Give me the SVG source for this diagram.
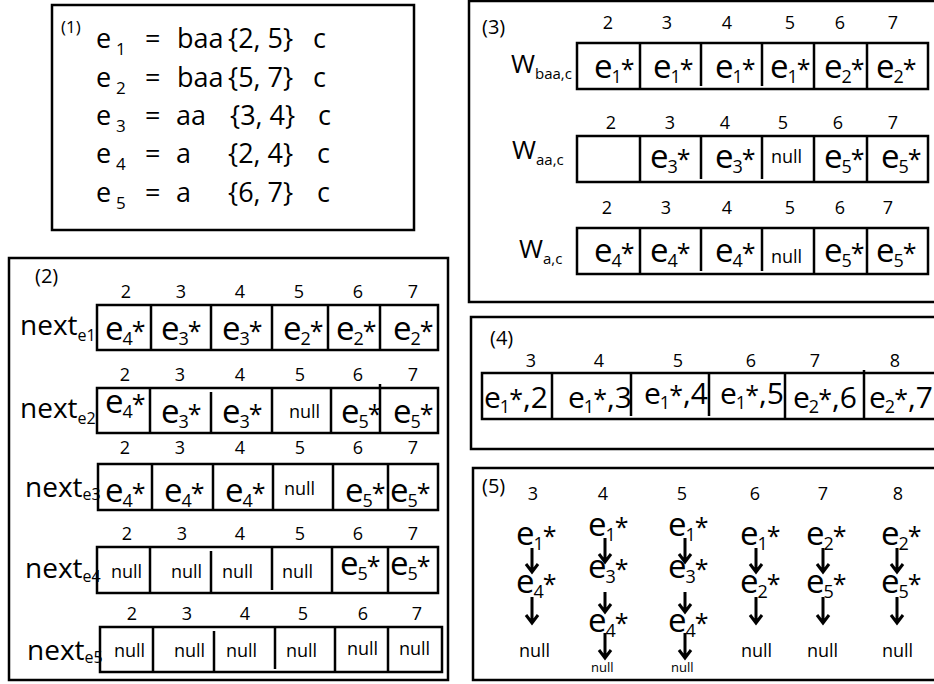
<svg xmlns="http://www.w3.org/2000/svg" width="934" height="684" viewBox="0 0 934 684">
<style>
text{font-family:"Open Sans","Liberation Sans",sans-serif;fill:#000}
.p{fill:none;stroke:#000;stroke-width:2.5}
.c{fill:none;stroke:#000;stroke-width:2.5}
.h{font-size:18px;text-anchor:middle}
.e{font-size:33px}
.e4{font-size:30px}
.s{font-size:18px}
.a{font-size:25px}
.n{font-size:18px}
.nn{font-size:13px}
.lb{font-size:28px}
.lw{font-size:26px}
.ls{font-size:16px}
.lws{font-size:15px}
.t1{font-size:27px}
.s1{font-size:17px}
.pl{font-size:20px}
.arr{fill:none;stroke:#000;stroke-width:3}
</style>

<g id="panel1">
<rect class="p" x="52" y="5" width="362" height="225"/>
<text class="pl" x="61" y="33" style="font-size:17px">(1)</text>
<text class="t1" y="48"><tspan x="96">e</tspan><tspan class="s1" x="116" dy="7">1</tspan></text>
<text class="t1" x="145" y="48">=</text><text class="t1" x="177" y="48">baa</text><text class="t1" x="228" y="48">{2, 5}</text><text class="t1" x="313" y="48">c</text>
<text class="t1" y="87"><tspan x="96">e</tspan><tspan class="s1" x="116" dy="7">2</tspan></text>
<text class="t1" x="145" y="87">=</text><text class="t1" x="177" y="87">baa</text><text class="t1" x="228" y="87">{5, 7}</text><text class="t1" x="313" y="87">c</text>
<text class="t1" y="125"><tspan x="96">e</tspan><tspan class="s1" x="116" dy="7">3</tspan></text>
<text class="t1" x="145" y="125">=</text><text class="t1" x="176" y="125">aa</text><text class="t1" x="230" y="125">{3, 4}</text><text class="t1" x="318" y="125">c</text>
<text class="t1" y="163"><tspan x="96">e</tspan><tspan class="s1" x="116" dy="7">4</tspan></text>
<text class="t1" x="145" y="163">=</text><text class="t1" x="176" y="163">a</text><text class="t1" x="228" y="163">{2, 4}</text><text class="t1" x="317" y="163">c</text>
<text class="t1" y="202"><tspan x="96">e</tspan><tspan class="s1" x="116" dy="7">5</tspan></text>
<text class="t1" x="145" y="202">=</text><text class="t1" x="176" y="202">a</text><text class="t1" x="228" y="202">{6, 7}</text><text class="t1" x="317" y="202">c</text>
</g>

<g id="panel2">
<rect class="p" x="9" y="258" width="439" height="422"/>
<text class="pl" x="35" y="283">(2)</text>

<g id="next_e1">
<text class="h" y="298"><tspan x="126">2</tspan><tspan x="181">3</tspan><tspan x="240">4</tspan><tspan x="299">5</tspan><tspan x="358">6</tspan><tspan x="413">7</tspan></text>
<rect class="c" x="97" y="305" width="341" height="45"/>
<path class="c" d="M151 305V350M211 305V350M272 305V350M328 305V350M380 305V350"/>
<text class="lb" x="20" y="335">next<tspan class="ls" dy="6">e1</tspan></text>
<text class="e" x="105" y="340">e<tspan class="s" dx="-1" dy="5">4</tspan><tspan class="a" dx="-1" dy="-5">*</tspan></text>
<text class="e" x="161" y="340">e<tspan class="s" dx="-1" dy="5">3</tspan><tspan class="a" dx="-1" dy="-5">*</tspan></text>
<text class="e" x="222" y="340">e<tspan class="s" dx="-1" dy="5">3</tspan><tspan class="a" dx="-1" dy="-5">*</tspan></text>
<text class="e" x="283" y="340">e<tspan class="s" dx="-1" dy="5">2</tspan><tspan class="a" dx="-1" dy="-5">*</tspan></text>
<text class="e" x="336" y="340">e<tspan class="s" dx="-1" dy="5">2</tspan><tspan class="a" dx="-1" dy="-5">*</tspan></text>
<text class="e" x="393" y="340">e<tspan class="s" dx="-1" dy="5">2</tspan><tspan class="a" dx="-1" dy="-5">*</tspan></text>
</g>

<g id="next_e2">
<text class="h" y="381"><tspan x="125">2</tspan><tspan x="180">3</tspan><tspan x="240">4</tspan><tspan x="300">5</tspan><tspan x="358">6</tspan><tspan x="413">7</tspan></text>
<rect class="c" x="97" y="388" width="341" height="45"/>
<path class="c" d="M150 388V433M211 392V433M272 388V433M331 388V433M380 384V433"/>
<text class="lb" x="20" y="418">next<tspan class="ls" dy="6">e2</tspan></text>
<text class="e" x="105" y="413">e<tspan class="s" dx="-1" dy="5">4</tspan><tspan class="a" dx="-1" dy="-5">*</tspan></text>
<text class="e" x="161" y="423">e<tspan class="s" dx="-1" dy="5">3</tspan><tspan class="a" dx="-1" dy="-5">*</tspan></text>
<text class="e" x="222" y="423">e<tspan class="s" dx="-1" dy="5">3</tspan><tspan class="a" dx="-1" dy="-5">*</tspan></text>
<text class="n" x="289" y="418">null</text>
<text class="e" x="341" y="423">e<tspan class="s" dx="-1" dy="5">5</tspan><tspan class="a" dx="-1" dy="-5">*</tspan></text>
<text class="e" x="393" y="423">e<tspan class="s" dx="-1" dy="5">5</tspan><tspan class="a" dx="-1" dy="-5">*</tspan></text>
</g>

<g id="next_e3">
<text class="h" y="454"><tspan x="125">2</tspan><tspan x="180">3</tspan><tspan x="240">4</tspan><tspan x="300">5</tspan><tspan x="358">6</tspan><tspan x="413">7</tspan></text>
<rect class="c" x="98" y="464" width="340" height="46"/>
<path class="c" d="M152 464V510M213 464V510M273 464V510M333 464V510M388 464V510"/>
<text class="lb" x="25" y="497">next<tspan class="ls" dy="3">e3</tspan></text>
<text class="e" x="105" y="502">e<tspan class="s" dx="-1" dy="5">4</tspan><tspan class="a" dx="-1" dy="-5">*</tspan></text>
<text class="e" x="164" y="502">e<tspan class="s" dx="-1" dy="5">4</tspan><tspan class="a" dx="-1" dy="-5">*</tspan></text>
<text class="e" x="225" y="502">e<tspan class="s" dx="-1" dy="5">4</tspan><tspan class="a" dx="-1" dy="-5">*</tspan></text>
<text class="n" x="284" y="495">null</text>
<text class="e" x="345" y="502">e<tspan class="s" dx="-1" dy="5">5</tspan><tspan class="a" dx="-1" dy="-5">*</tspan></text>
<text class="e" x="390" y="502">e<tspan class="s" dx="-1" dy="5">5</tspan><tspan class="a" dx="-1" dy="-5">*</tspan></text>
</g>

<g id="next_e4">
<text class="h" y="540"><tspan x="127">2</tspan><tspan x="182">3</tspan><tspan x="240">4</tspan><tspan x="300">5</tspan><tspan x="358">6</tspan><tspan x="413">7</tspan></text>
<rect class="c" x="97" y="547" width="341" height="46"/>
<path class="c" d="M150 547V593M211 551V593M272 547V590M332 547V593M388 547V593"/>
<text class="lb" x="25" y="578">next<tspan class="ls" dy="4">e4</tspan></text>
<text class="n" x="111" y="578">null</text>
<text class="n" x="171" y="578">null</text>
<text class="n" x="222" y="578">null</text>
<text class="n" x="282" y="578">null</text>
<text class="e" x="340" y="575">e<tspan class="s" dx="-1" dy="5">5</tspan><tspan class="a" dx="-1" dy="-5">*</tspan></text>
<text class="e" x="390" y="575">e<tspan class="s" dx="-1" dy="5">5</tspan><tspan class="a" dx="-1" dy="-5">*</tspan></text>
</g>

<g id="next_e5">
<text class="h" y="620"><tspan x="132">2</tspan><tspan x="187">3</tspan><tspan x="245">4</tspan><tspan x="303">5</tspan><tspan x="363">6</tspan><tspan x="417">7</tspan></text>
<rect class="c" x="100" y="627" width="342" height="45"/>
<path class="c" d="M153 627V672M214 631V672M275 627V669M335 627V672M388 627V672"/>
<text class="lb" x="27" y="660">next<tspan class="ls" dy="3">e5</tspan></text>
<text class="n" x="114" y="657">null</text>
<text class="n" x="174" y="657">null</text>
<text class="n" x="226" y="657">null</text>
<text class="n" x="286" y="657">null</text>
<text class="n" x="347" y="655">null</text>
<text class="n" x="399" y="655">null</text>
</g>
</g>

<g id="panel3">
<rect class="p" x="469" y="1" width="480" height="301"/>
<text class="pl" x="482" y="34">(3)</text>

<g id="W_baa_c">
<text class="h" y="29"><tspan x="608">2</tspan><tspan x="667">3</tspan><tspan x="727">4</tspan><tspan x="790">5</tspan><tspan x="840">6</tspan><tspan x="893">7</tspan></text>
<rect class="c" x="577" y="43" width="351" height="46"/>
<path class="c" d="M640 43V89M701 43V86M762 43V86M814 43V89M867 43V89"/>
<text class="lw" x="511" y="73">W<tspan class="lws" dy="6">baa,c</tspan></text>
<text class="e" x="594" y="78">e<tspan class="s" dx="-1" dy="5">1</tspan><tspan class="a" dx="-1" dy="-5">*</tspan></text>
<text class="e" x="653" y="78">e<tspan class="s" dx="-1" dy="5">1</tspan><tspan class="a" dx="-1" dy="-5">*</tspan></text>
<text class="e" x="715" y="78">e<tspan class="s" dx="-1" dy="5">1</tspan><tspan class="a" dx="-1" dy="-5">*</tspan></text>
<text class="e" x="770" y="78">e<tspan class="s" dx="-1" dy="5">1</tspan><tspan class="a" dx="-1" dy="-5">*</tspan></text>
<text class="e" x="824" y="78">e<tspan class="s" dx="-1" dy="5">2</tspan><tspan class="a" dx="-1" dy="-5">*</tspan></text>
<text class="e" x="876" y="78">e<tspan class="s" dx="-1" dy="5">2</tspan><tspan class="a" dx="-1" dy="-5">*</tspan></text>
</g>

<g id="W_aa_c">
<text class="h" y="129"><tspan x="611">2</tspan><tspan x="670">3</tspan><tspan x="725">4</tspan><tspan x="783">5</tspan><tspan x="838">6</tspan><tspan x="893">7</tspan></text>
<rect class="c" x="577" y="136" width="351" height="46"/>
<path class="c" d="M640 136V182M701 136V179M762 136V179M814 136V182M867 136V182"/>
<text class="lw" x="512" y="159">W<tspan class="lws" dy="6">aa,c</tspan></text>
<text class="e" x="650" y="168">e<tspan class="s" dx="-1" dy="5">3</tspan><tspan class="a" dx="-1" dy="-5">*</tspan></text>
<text class="e" x="715" y="168">e<tspan class="s" dx="-1" dy="5">3</tspan><tspan class="a" dx="-1" dy="-5">*</tspan></text>
<text class="n" x="771" y="163">null</text>
<text class="e" x="824" y="168">e<tspan class="s" dx="-1" dy="5">5</tspan><tspan class="a" dx="-1" dy="-5">*</tspan></text>
<text class="e" x="881" y="168">e<tspan class="s" dx="-1" dy="5">5</tspan><tspan class="a" dx="-1" dy="-5">*</tspan></text>
</g>

<g id="W_a_c">
<text class="h" y="214"><tspan x="607">2</tspan><tspan x="666">3</tspan><tspan x="727">4</tspan><tspan x="790">5</tspan><tspan x="840">6</tspan><tspan x="888">7</tspan></text>
<rect class="c" x="577" y="228" width="351" height="46"/>
<path class="c" d="M640 228V274M701 228V271M762 228V271M814 228V274M867 228V274"/>
<text class="lw" x="519" y="258">W<tspan class="lws" dy="6">a,c</tspan></text>
<text class="e" x="594" y="262">e<tspan class="s" dx="-1" dy="5">4</tspan><tspan class="a" dx="-1" dy="-5">*</tspan></text>
<text class="e" x="650" y="262">e<tspan class="s" dx="-1" dy="5">4</tspan><tspan class="a" dx="-1" dy="-5">*</tspan></text>
<text class="e" x="715" y="262">e<tspan class="s" dx="-1" dy="5">4</tspan><tspan class="a" dx="-1" dy="-5">*</tspan></text>
<text class="n" x="771" y="263">null</text>
<text class="e" x="824" y="262">e<tspan class="s" dx="-1" dy="5">5</tspan><tspan class="a" dx="-1" dy="-5">*</tspan></text>
<text class="e" x="876" y="262">e<tspan class="s" dx="-1" dy="5">5</tspan><tspan class="a" dx="-1" dy="-5">*</tspan></text>
</g>
</g>

<g id="panel4">
<rect class="p" x="471" y="317" width="480" height="132"/>
<text class="pl" x="490" y="345">(4)</text>
<text class="h" y="367"><tspan x="531">3</tspan><tspan x="599">4</tspan><tspan x="678">5</tspan><tspan x="751">6</tspan><tspan x="815">7</tspan><tspan x="895">8</tspan></text>
<rect class="c" x="482" y="373" width="470" height="46"/>
<path class="c" d="M552 373V419M631 373V416M709 373V416M785 373V419M864 370V419"/>
<text class="e4" x="484" y="408">e<tspan class="s" dx="-1" dy="5">1</tspan><tspan class="a" dx="-1" dy="-5">*</tspan>,2</text>
<text class="e4" x="568" y="408">e<tspan class="s" dx="-1" dy="5">1</tspan><tspan class="a" dx="-1" dy="-5">*</tspan>,3</text>
<text class="e4" x="644" y="404">e<tspan class="s" dx="-1" dy="5">1</tspan><tspan class="a" dx="-1" dy="-5">*</tspan>,4</text>
<text class="e4" x="720" y="404">e<tspan class="s" dx="-1" dy="5">1</tspan><tspan class="a" dx="-1" dy="-5">*</tspan>,5</text>
<text class="e4" x="793" y="408">e<tspan class="s" dx="-1" dy="5">2</tspan><tspan class="a" dx="-1" dy="-5">*</tspan>,6</text>
<text class="e4" x="869" y="408">e<tspan class="s" dx="-1" dy="5">2</tspan><tspan class="a" dx="-1" dy="-5">*</tspan>,7</text>
</g>

<g id="panel5">
<rect class="p" x="473" y="468" width="480" height="212"/>
<text class="pl" x="482" y="493">(5)</text>
<text class="h" y="500"><tspan x="533">3</tspan><tspan x="603">4</tspan><tspan x="682">5</tspan><tspan x="755">6</tspan><tspan x="823">7</tspan><tspan x="898">8</tspan></text>

<g id="chain3">
<text class="e" x="516" y="545">e<tspan class="s" dx="-1" dy="5">1</tspan><tspan class="a" dx="-1" dy="-5">*</tspan></text>
<text class="e" x="516" y="593">e<tspan class="s" dx="-1" dy="5">4</tspan><tspan class="a" dx="-1" dy="-5">*</tspan></text>
<text class="n" x="519" y="657">null</text>
</g>
<g id="chain4">
<text class="e" x="588" y="536">e<tspan class="s" dx="-1" dy="5">1</tspan><tspan class="a" dx="-1" dy="-5">*</tspan></text>
<text class="e" x="588" y="578">e<tspan class="s" dx="-1" dy="5">3</tspan><tspan class="a" dx="-1" dy="-5">*</tspan></text>
<text class="e" x="588" y="632">e<tspan class="s" dx="-1" dy="5">4</tspan><tspan class="a" dx="-1" dy="-5">*</tspan></text>
<text class="nn" x="591" y="672">null</text>
</g>
<g id="chain5">
<text class="e" x="668" y="536">e<tspan class="s" dx="-1" dy="5">1</tspan><tspan class="a" dx="-1" dy="-5">*</tspan></text>
<text class="e" x="668" y="578">e<tspan class="s" dx="-1" dy="5">3</tspan><tspan class="a" dx="-1" dy="-5">*</tspan></text>
<text class="e" x="668" y="632">e<tspan class="s" dx="-1" dy="5">4</tspan><tspan class="a" dx="-1" dy="-5">*</tspan></text>
<text class="nn" x="671" y="672">null</text>
</g>
<g id="chain6">
<text class="e" x="740" y="545">e<tspan class="s" dx="-1" dy="5">1</tspan><tspan class="a" dx="-1" dy="-5">*</tspan></text>
<text class="e" x="740" y="593">e<tspan class="s" dx="-1" dy="5">2</tspan><tspan class="a" dx="-1" dy="-5">*</tspan></text>
<text class="n" x="741" y="657">null</text>
</g>
<g id="chain7">
<text class="e" x="806" y="545">e<tspan class="s" dx="-1" dy="5">2</tspan><tspan class="a" dx="-1" dy="-5">*</tspan></text>
<text class="e" x="806" y="593">e<tspan class="s" dx="-1" dy="5">5</tspan><tspan class="a" dx="-1" dy="-5">*</tspan></text>
<text class="n" x="807" y="657">null</text>
</g>
<g id="chain8">
<text class="e" x="881" y="545">e<tspan class="s" dx="-1" dy="5">2</tspan><tspan class="a" dx="-1" dy="-5">*</tspan></text>
<text class="e" x="881" y="593">e<tspan class="s" dx="-1" dy="5">5</tspan><tspan class="a" dx="-1" dy="-5">*</tspan></text>
<text class="n" x="882" y="657">null</text>
</g>
</g>

<g id="connectors">
<path class="arr" d="M532 548V572M526 564L532 572L538 564"/>
<path class="arr" d="M532 597V623M526 615L532 623L538 615"/>
<path class="arr" d="M605 538V562M599 554L605 562L611 554"/>
<path class="arr" d="M605 592V612M599 604L605 612L611 604"/>
<path class="arr" d="M605 633V658M599 650L605 658L611 650"/>
<path class="arr" d="M685 538V562M679 554L685 562L691 554"/>
<path class="arr" d="M685 592V612M679 604L685 612L691 604"/>
<path class="arr" d="M685 633V658M679 650L685 658L691 650"/>
<path class="arr" d="M756 548V572M750 564L756 572L762 564"/>
<path class="arr" d="M756 597V623M750 615L756 623L762 615"/>
<path class="arr" d="M823 548V572M817 564L823 572L829 564"/>
<path class="arr" d="M823 597V623M817 615L823 623L829 615"/>
<path class="arr" d="M897 548V572M891 564L897 572L903 564"/>
<path class="arr" d="M897 597V623M891 615L897 623L903 615"/>
</g>
</svg>
